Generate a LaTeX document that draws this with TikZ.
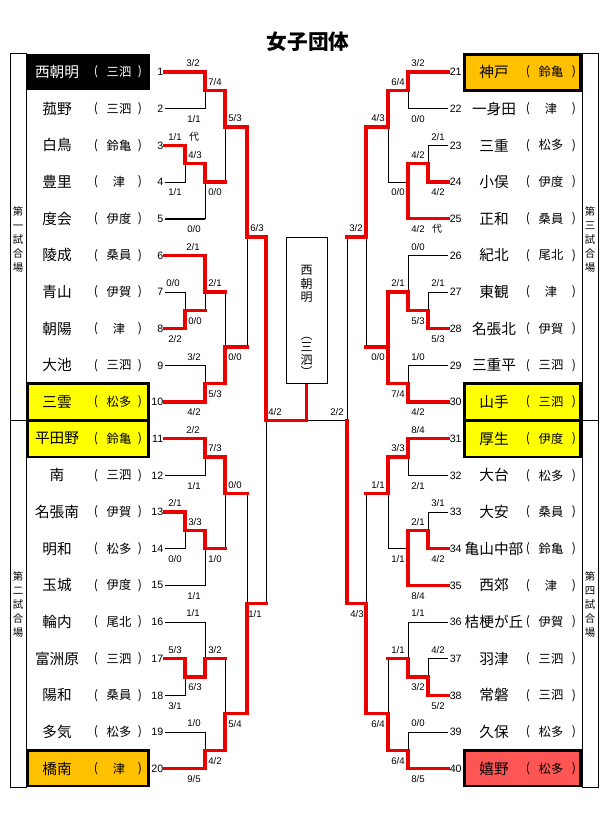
\documentclass[tikz,border=0pt]{standalone}
\usepackage{fontspec}
\setmainfont{Liberation Sans}
\newfontfamily\cjk{Noto Sans CJK JP}
\definecolor{bred}{RGB}{235,0,0}
\definecolor{hyel}{RGB}{255,255,0}
\definecolor{hora}{RGB}{255,192,0}
\definecolor{hpink}{RGB}{255,85,85}
\newcommand\halfblk{%
  \draw[blk] (165,72)--(205,72)--(205,108.67)--(165,108.67);
  \draw[blk] (165,145.33)--(185,145.33)--(185,182)--(165,182);
  \draw[blk] (185,163.67)--(205,163.67)--(205,218.67)--(165,218.67);
  \draw[blk] (205,90.33)--(225,90.33)--(225,182)--(205,182);
  \draw[blk] (225,127)--(247,127);
  \draw[blk] (165,255.33)--(205,255.33)--(205,310.33)--(185,310.33);
  \draw[blk] (165,292)--(185,292)--(185,328.67)--(165,328.67);
  \draw[blk] (205,292)--(225,292)--(225,383.67)--(205,383.67);
  \draw[blk] (165,365.33)--(205,365.33)--(205,402)--(165,402);
  \draw[blk] (225,347)--(247,347);
  \draw[blk] (247,127)--(247,347) (247,237)--(266,237);
}
\newcommand\fullblk{%
  \halfblk
  \begin{scope}[shift={(0,366.67)}]\halfblk\end{scope}
  \draw[blk] (266,237)--(266,603.67) (266,420.33)--(306.5,420.33);
}
\begin{document}
\begin{tikzpicture}[x=0.75pt,y=-0.75pt,
  blk/.style={line width=0.75pt,line join=miter},
  rd/.style={draw=bred,line width=2.6pt,line cap=rect,line join=miter},
  hbox/.style={draw=black,line width=2.2pt},
  nm/.style={font=\cjk\fontsize{11}{11}\selectfont,inner sep=0pt},
  scl/.style={font=\cjk\fontsize{9.2}{9.2}\selectfont,inner sep=0pt},
  num/.style={font=\fontsize{8}{8}\selectfont,inner sep=0pt},
  score/.style={font=\fontsize{7.2}{7.2}\selectfont,inner sep=0pt},
  vlab/.style={font=\cjk\fontsize{7.8}{10.5}\selectfont,align=center,inner sep=0pt}]
\useasboundingbox (0,0) rectangle (616,817);
\fill[white] (0,0) rectangle (616,817);
% title
\node[font=\cjk\bfseries\fontsize{15.5}{15.5}\selectfont] (title) at (308,42) {女子団体};
% side label columns
\draw[blk] (10,53.67) rectangle (26,787) (10,420.33)--(26,420.33);
\draw[blk] (582,53.67) rectangle (598,787) (582,420.33)--(598,420.33);
\node[vlab] (lab1) at (18,240) {第\\一\\試\\合\\場};
\node[vlab] (lab2) at (18,605) {第\\二\\試\\合\\場};
\node[vlab] (lab3) at (590,240) {第\\三\\試\\合\\場};
\node[vlab] (lab4) at (590,605) {第\\四\\試\\合\\場};
% highlight boxes
\fill[black] (26,53.67) rectangle (150,90.33);
\draw[hbox,fill=hyel] (27.5,383.67) rectangle (148.5,420.33);
\draw[hbox,fill=hyel] (27.5,420.33) rectangle (148.5,457);
\draw[hbox,fill=hora] (27.5,750.33) rectangle (148.5,786);
\draw[hbox,fill=hora] (464.5,54.5) rectangle (580.5,90.33);
\draw[hbox,fill=hyel] (464.5,383.67) rectangle (580.5,420.33);
\draw[hbox,fill=hyel] (464.5,420.33) rectangle (580.5,457);
\draw[hbox,fill=hpink] (464.5,750.33) rectangle (580.5,786);
% left teams
\foreach \i/\n/\s in {1/西朝明/三泗,2/菰野/三泗,3/白鳥/鈴亀,4/豊里/津,5/度会/伊度,6/陵成/桑員,7/青山/伊賀,8/朝陽/津,9/大池/三泗,10/三雲/松多,11/平田野/鈴亀,12/南/三泗,13/名張南/伊賀,14/明和/松多,15/玉城/伊度,16/輪内/尾北,17/富洲原/三泗,18/陽和/桑員,19/多気/松多,20/橋南/津}{
  \pgfmathsetmacro\yy{72+(\i-1)*36.66667}
  \def\tc{black}\ifnum\i=1 \def\tc{white}\fi
  \node[nm,text=\tc] (ln\i) at (57,\yy) {\n};
  \node[scl,text=\tc] (lpa\i) at (96,\yy) {(};
  \node[scl,text=\tc] (ls\i) at (119,\yy) {\s};
  \node[scl,text=\tc] (lpb\i) at (140,\yy) {)};
  \node[num,anchor=east] (lnum\i) at (163.5,\yy) {\i};
}
% right teams
\foreach \i/\n/\s in {21/神戸/鈴亀,22/一身田/津,23/三重/松多,24/小俣/伊度,25/正和/桑員,26/紀北/尾北,27/東観/津,28/名張北/伊賀,29/三重平/三泗,30/山手/三泗,31/厚生/伊度,32/大台/松多,33/大安/桑員,34/亀山中部/鈴亀,35/西郊/津,36/桔梗が丘/伊賀,37/羽津/三泗,38/常磐/三泗,39/久保/松多,40/嬉野/松多}{
  \pgfmathsetmacro\yy{72+(\i-21)*36.66667}
  \node[nm] (rn\i) at (494,\yy) {\n};
  \node[scl] (rpa\i) at (528,\yy) {(};
  \node[scl] (rs\i) at (551,\yy) {\s};
  \node[scl] (rpb\i) at (574,\yy) {)};
  \node[num,anchor=west] (rnum\i) at (449.5,\yy) {\i};
}
% bracket black structure
\fullblk
\begin{scope}[shift={(613,0)},xscale=-1]\fullblk\end{scope}
\draw[line width=1.3pt] (165,218.67)--(205,218.67);
% red left
\draw[rd] (165,72)--(205,72)--(205,90.33)--(225,90.33)--(225,127)--(247,127)--(247,237)--(266,237)--(266,420.33)--(306.5,420.33)--(306.5,383);
\draw[rd] (165,145.33)--(185,145.33)--(185,163.67)--(205,163.67)--(205,182)--(225,182);
\draw[rd] (165,255.33)--(205,255.33)--(205,292)--(225,292);
\draw[rd] (165,328.67)--(185,328.67)--(185,310.33)--(205,310.33);
\draw[rd] (165,402)--(205,402)--(205,383.67)--(225,383.67)--(225,347)--(247,347);
\draw[rd] (165,438.67)--(205,438.67)--(205,457)--(225,457)--(225,493.67)--(247,493.67);
\draw[rd] (165,512)--(185,512)--(185,530.33)--(205,530.33)--(205,548.67)--(225,548.67);
\draw[rd] (165,658.67)--(185,658.67)--(185,677)--(205,677)--(205,658.67)--(225,658.67);
\draw[rd] (165,768.67)--(205,768.67)--(205,750.33)--(225,750.33)--(225,713.67)--(247,713.67)--(247,603.67)--(266,603.67);
% red right (mirrored coordinates)
\begin{scope}[shift={(613,0)},xscale=-1]
\draw[rd] (165,72)--(205,72)--(205,90.33)--(225,90.33)--(225,127)--(247,127)--(247,237)--(266,237);
\draw[rd] (165,182)--(185,182)--(185,163.67)--(205,163.67)--(205,218.67)--(165,218.67);
\draw[rd] (165,328.67)--(185,328.67)--(185,310.33)--(205,310.33)--(205,292)--(225,292)--(225,383.67)--(205,383.67)--(205,402)--(165,402);
\draw[rd] (225,347)--(247,347);
\draw[rd] (165,438.67)--(205,438.67)--(205,457)--(225,457)--(225,493.67)--(247,493.67);
\draw[rd] (165,548.67)--(185,548.67)--(185,530.33)--(205,530.33)--(205,585.33)--(165,585.33);
\draw[rd] (165,695.33)--(185,695.33)--(185,677)--(205,677)--(205,658.67)--(225,658.67);
\draw[rd] (165,768.67)--(205,768.67)--(205,750.33)--(225,750.33)--(225,713.67)--(247,713.67)--(247,603.67)--(266,603.67)--(266,420.33);
\end{scope}
% champion box
\draw[blk,fill=white] (286,237) rectangle (327,383);
\node[font=\cjk\fontsize{9}{9.9}\selectfont,align=center,inner sep=0pt] (champ) at (306.5,284) {西\\朝\\明};
\node[font=\cjk\fontsize{9}{9.3}\selectfont,align=center,inner sep=0pt] (champs) at (306.5,357) {︵\\三\\泗\\︶};
% scores
\foreach \x/\y/\a/\b [count=\k] in {193/63.5/3/2,194/119.2/1/1,215/81.8/7/4,235/118.5/5/3,175/136.8/1/1,195/155.2/4/3,175/192.5/1/1,215/192.5/0/0,194/229.2/0/0,257/228.5/6/3,
193/246.8/2/1,173/283.5/0/0,215/283.5/2/1,195/320.8/0/0,175/339.2/2/2,194/356.8/3/2,235/357.5/0/0,215/394.2/5/3,194/412.5/4/2,275/411.8/4/2,337/411.8/2/2,
193/430.2/2/2,215/448.5/7/3,194/485.8/1/1,235/485.2/0/0,175/503.5/2/1,195/521.8/3/3,175/559.2/0/0,215/559.2/1/0,194/595.8/1/1,255/614.2/1/1,
193/613.5/1/1,175/650.2/5/3,215/650.2/3/2,195/687.5/6/3,175/705.8/3/1,194/723.5/1/0,235/724.2/5/4,215/760.8/4/2,194/779.2/9/5,
418/63.5/3/2,398/81.8/6/4,418/119.2/0/0,378/118.5/4/3,438/136.8/2/1,418/155.2/4/2,438/192.5/4/2,398/192.5/0/0,418/229.2/4/2,356/228.5/3/2,
418/246.8/0/0,438/283.5/2/1,398/283.5/2/1,418/320.8/5/3,438/339.2/5/3,378/357.5/0/0,418/356.8/1/0,398/394.2/7/4,418/412.5/4/2,
418/430.2/8/4,398/448.5/3/3,418/485.8/2/1,378/485.2/1/1,438/503.5/3/1,418/521.8/2/1,438/559.2/4/2,398/559.2/1/1,418/595.8/8/4,357/614.2/4/3,
418/613.5/1/1,438/650.2/4/2,398/650.2/1/1,418/687.5/3/2,438/705.8/5/2,378/724.2/6/4,418/723.5/0/0,398/760.8/6/4,418/779.2/8/5}{
  \node[score] (sc\k) at (\x,\y) {\a/\b};
}
\node[font=\cjk\fontsize{7.5}{7.5}\selectfont,inner sep=0pt] (dai1) at (194,136.8) {代};
\node[font=\cjk\fontsize{7.5}{7.5}\selectfont,inner sep=0pt] (dai2) at (437,229.2) {代};
\end{tikzpicture}
\end{document}
